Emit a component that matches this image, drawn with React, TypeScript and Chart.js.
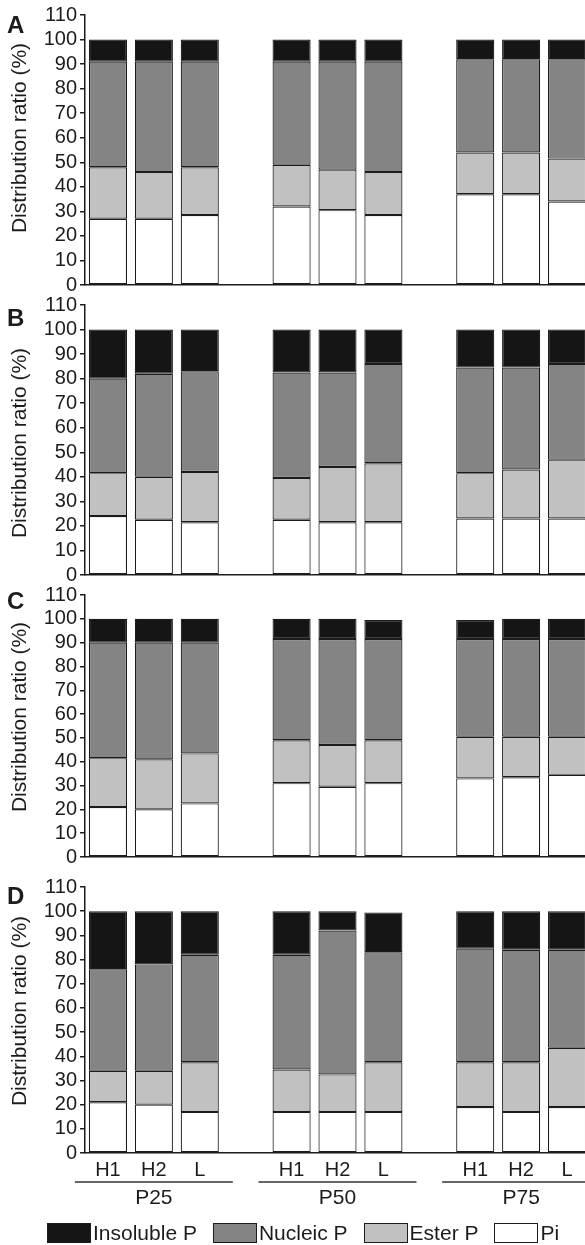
import React, { useEffect, useRef } from "react";
import { Chart, registerables } from "chart.js";

Chart.register(...registerables);

const FONT = '"Liberation Sans", Arial, Helvetica, sans-serif';
Chart.defaults.font.family = FONT;

// ---- categories ----
const GROUPS = ["P25", "P50", "P75"];
const CONDITIONS = ["H1", "H2", "L"];
const SERIES_NAMES = ["Insoluble P", "Nucleic P", "Ester P", "Pi"];
const SERIES_COLORS = ["#151515", "#848484", "#c1c1c1", "#ffffff"];
const Y_MIN = 0;
const Y_MAX = 110;
const Y_STEP = 10;
const Y_TITLE = "Distribution ratio (%)";

// ---- values (order: P25 H1,H2,L | P50 H1,H2,L | P75 H1,H2,L) ----
// Panel A
const A_PI = [27, 27, 28.5, 32, 30.5, 28.5, 37, 37, 34];
const A_ESTER = [21, 19, 19.5, 17, 16.5, 17.5, 17, 17, 17.5];
const A_NUCLEIC = [43, 45, 43, 42, 44, 45, 38, 38, 40.5];
const A_INSOLUBLE = [9, 9, 9, 9, 9, 9, 8, 8, 8];
// Panel B
const B_PI = [24, 22.5, 21.5, 22.5, 21.5, 21.5, 23, 23, 23];
const B_ESTER = [17.5, 17.5, 20.5, 17, 22.5, 24, 18.5, 20, 24];
const B_NUCLEIC = [38.5, 42, 41, 43, 38.5, 40.5, 43, 41.5, 39];
const B_INSOLUBLE = [20, 18, 17, 17.5, 17.5, 14, 15.5, 15.5, 14];
// Panel C
const C_PI = [21, 20, 22.5, 31, 29.5, 31, 33, 33.5, 34.5];
const C_ESTER = [20.5, 21, 21, 18, 17.5, 18, 17.5, 17, 16];
const C_NUCLEIC = [48.5, 49, 46.5, 42.5, 44.5, 42.5, 41, 41, 41];
const C_INSOLUBLE = [10, 10, 10, 8.5, 8.5, 8, 8, 8.5, 8.5];
// Panel D
const D_PI = [21, 20, 17, 17, 17, 17, 19, 17, 19];
const D_ESTER = [13, 14, 20.5, 17.5, 15.5, 20.5, 18.5, 20.5, 24.5];
const D_NUCLEIC = [42, 44, 44.5, 47.5, 59.5, 45.5, 47, 46.5, 40.5];
const D_INSOLUBLE = [24, 22, 18, 18, 8, 16.5, 15.5, 16, 16];

// category labels with an empty slot between groups
const LABELS: string[] = [];
GROUPS.forEach((g, gi) => {
  if (gi > 0) LABELS.push("");
  CONDITIONS.forEach((c) => LABELS.push(c));
});

function toSlots(vals: number[]): (number | null)[] {
  const out: (number | null)[] = [];
  GROUPS.forEach((g, gi) => {
    if (gi > 0) out.push(null);
    CONDITIONS.forEach((c, ci) => out.push(vals[gi * CONDITIONS.length + ci]));
  });
  return out;
}

type PanelCfg = {
  letter: string;
  top: number;
  height: number;
  padTop: number;
  padBottom: number;
  titleShift: number;
  letterBase: number;
  series: number[][]; // insoluble, nucleic, ester, pi
  last: boolean;
};

const PANELS: PanelCfg[] = [
  { letter: "A", top: 0, height: 300, padTop: 15, padBottom: 15, titleShift: -12, letterBase: 18, series: [A_INSOLUBLE, A_NUCLEIC, A_ESTER, A_PI], last: false },
  { letter: "B", top: 290, height: 300, padTop: 14, padBottom: 15, titleShift: 3, letterBase: 21, series: [B_INSOLUBLE, B_NUCLEIC, B_ESTER, B_PI], last: false },
  { letter: "C", top: 580, height: 292, padTop: 14, padBottom: 14, titleShift: -9, letterBase: 14, series: [C_INSOLUBLE, C_NUCLEIC, C_ESTER, C_PI], last: false },
  { letter: "D", top: 872, height: 345, padTop: 14, padBottom: 0, titleShift: -9, letterBase: 17, series: [D_INSOLUBLE, D_NUCLEIC, D_ESTER, D_PI], last: true },
];

const INK = "#1c1c1c";
const CANVAS_W = 590;

function Panel({ cfg }: { cfg: PanelCfg }) {
  const ref = useRef<HTMLCanvasElement | null>(null);

  useEffect(() => {
    if (!ref.current) return;
    // datasets bottom -> top : Pi, Ester, Nucleic, Insoluble
    const order = [3, 2, 1, 0];
    const datasets = order.map((si) => ({
      label: SERIES_NAMES[si],
      data: toSlots(cfg.series[si]),
      backgroundColor: SERIES_COLORS[si],
      borderColor: INK,
      borderWidth: 1.2,
      borderSkipped: false as const,
      barPercentage: 0.83,
      categoryPercentage: 1,
    }));

    const decor = {
      id: "decor" + cfg.letter,
      afterDraw(chart: any) {
        const { ctx, chartArea } = chart;
        ctx.save();
        ctx.fillStyle = INK;
        ctx.font = `bold 24px ${FONT}`;
        ctx.textAlign = "left";
        ctx.textBaseline = "alphabetic";
        ctx.fillText(cfg.letter, 7, chartArea.top + cfg.letterBase);
        ctx.restore();

        ctx.save();
        ctx.fillStyle = INK;
        ctx.translate(20, (chartArea.top + chartArea.bottom) / 2 + cfg.titleShift);
        ctx.rotate(-Math.PI / 2);
        ctx.font = `21px ${FONT}`;
        ctx.textAlign = "center";
        ctx.textBaseline = "middle";
        ctx.fillText(Y_TITLE, 0, 0);
        ctx.restore();

        if (cfg.last) {
          const xs = chart.scales.x;
          const slot = (chartArea.right - chartArea.left) / LABELS.length;
          const half = slot * 1.72;
          const yb = chartArea.bottom;
          ctx.save();
          ctx.strokeStyle = "#333";
          ctx.lineWidth = 1.5;
          ctx.fillStyle = INK;
          ctx.font = `21px ${FONT}`;
          ctx.textAlign = "center";
          ctx.textBaseline = "middle";
          GROUPS.forEach((g, gi) => {
            const c = xs.getPixelForValue(gi * (CONDITIONS.length + 1) + 1);
            ctx.beginPath();
            ctx.moveTo(c - half, yb + 29);
            ctx.lineTo(c + half, yb + 29);
            ctx.stroke();
            ctx.fillText(g, c, yb + 45);
          });
          ctx.restore();
        }
      },
    };

    const chart = new Chart(ref.current, {
      type: "bar",
      data: { labels: LABELS, datasets },
      options: {
        responsive: false,
        animation: false,
        layout: { padding: { top: cfg.padTop, bottom: cfg.padBottom, left: 0, right: 0 } },
        plugins: { legend: { display: false }, tooltip: { enabled: false } },
        scales: {
          x: {
            stacked: true,
            grid: { display: false, drawTicks: false },
            border: { display: true, color: INK, width: 1.5 },
            ticks: {
              display: cfg.last,
              color: INK,
              font: { size: 20 },
              padding: 5,
              autoSkip: false,
              maxRotation: 0,
            },
            afterFit: (s: any) => {
              s.height = cfg.last ? 64 : 0;
            },
          },
          y: {
            stacked: true,
            min: Y_MIN,
            max: Y_MAX,
            ticks: { stepSize: Y_STEP, autoSkip: false, color: INK, font: { size: 20 }, padding: 3 },
            grid: { drawOnChartArea: false, drawTicks: true, tickLength: 5, color: INK, lineWidth: 1.5 },
            border: { display: true, color: INK, width: 1.5 },
            afterFit: (s: any) => {
              s.width = 85;
            },
          },
        },
      } as any,
      plugins: [decor],
    });
    return () => chart.destroy();
  }, [cfg]);

  return (
    <canvas
      ref={ref}
      width={CANVAS_W}
      height={cfg.height}
      style={{ position: "absolute", left: 0, top: cfg.top, width: CANVAS_W, height: cfg.height }}
    />
  );
}

function Legend() {
  return (
    <div
      style={{
        position: "absolute",
        left: 47,
        top: 1223,
        display: "flex",
        alignItems: "center",
        fontFamily: FONT,
        fontSize: 21,
        color: INK,
        lineHeight: "20px",
        whiteSpace: "nowrap",
      }}
    >
      {SERIES_NAMES.map((name, i) => (
        <div key={name} style={{ display: "flex", alignItems: "center", marginRight: 16 }}>
          <div
            style={{
              width: 44,
              height: 20,
              boxSizing: "border-box",
              border: `1.5px solid ${INK}`,
              background: SERIES_COLORS[i],
            }}
          />
          <span style={{ marginLeft: 2 }}>{name}</span>
        </div>
      ))}
    </div>
  );
}

export default function App() {
  return (
    <div
      style={{
        position: "absolute",
        left: 0,
        top: 0,
        width: 585,
        height: 1245,
        overflow: "hidden",
        background: "#fff",
      }}
    >
      {PANELS.map((p) => (
        <Panel key={p.letter} cfg={p} />
      ))}
      <Legend />
    </div>
  );
}
